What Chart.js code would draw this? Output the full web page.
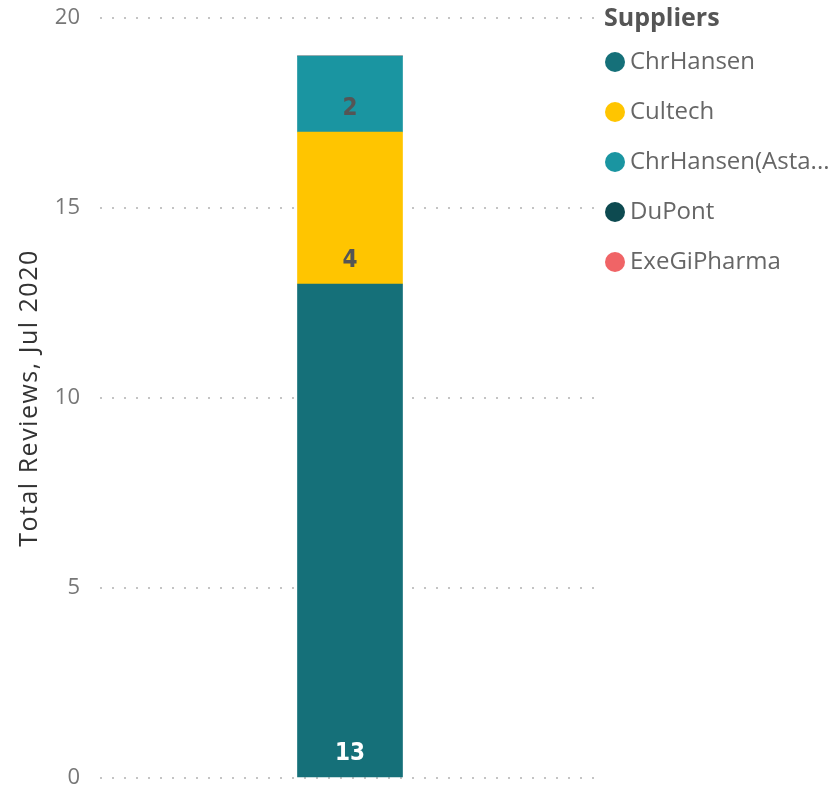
<!DOCTYPE html>
<html>
<head>
<meta charset="utf-8">
<script src="https://cdn.jsdelivr.net/npm/chart.js@4/dist/chart.umd.min.js"></script>
<style>
    html, body { margin: 0; padding: 0; background: #fff; }
    #wrap { width: 835px; height: 789px; }
</style>
</head>
<body>
<div id="wrap"><canvas id="myChart"></canvas></div>
<script>
/** 数据 */
var categories = ['Jul 2020']
var suppliers = ['ChrHansen', 'Cultech', 'ChrHansen(Asta...', 'DuPont', 'ExeGiPharma']
var reviews = [13, 4, 2, 0, 0]
var colors = ['#157079', '#FFC500', '#1A95A1', '#0D4A50', '#F06466']
var valueColors = ['#ffffff', '#555555', '#555555', '#ffffff', '#ffffff']
var yMax = 20
var yStep = 5
var yTitle = 'Total Reviews, Jul 2020'
var legendTitle = 'Suppliers'

var FONT = "'Open Sans', 'Noto Sans', sans-serif"

// 段内数值标签 (画在每段底部)
var segLabels = {
    id: 'segLabels',
    afterDatasetsDraw: function (chart) {
        var ctx = chart.ctx
        ctx.save()
        ctx.font = "bold 24px 'Liberation Sans Narrow', 'DejaVu Sans Condensed', sans-serif"
        ctx.textAlign = 'center'
        ctx.textBaseline = 'middle'
        chart.data.datasets.forEach(function (ds, i) {
            var meta = chart.getDatasetMeta(i)
            meta.data.forEach(function (bar, j) {
                var v = ds.data[j]
                if (!v) return
                ctx.fillStyle = valueColors[i]
                ctx.fillText(String(v), bar.x, bar.base - 23)
            })
        })
        ctx.restore()
    }
}

// y轴标题 + 右侧图例
var sideTexts = {
    id: 'sideTexts',
    afterDraw: function (chart) {
        var ctx = chart.ctx
        var area = chart.chartArea
        ctx.save()
        // y轴标题
        ctx.translate(30, (area.top + area.bottom) / 2)
        ctx.rotate(-Math.PI / 2)
        ctx.font = '25px ' + FONT
        ctx.letterSpacing = '1.5px'
        ctx.fillStyle = '#333'
        ctx.textAlign = 'center'
        ctx.textBaseline = 'middle'
        ctx.fillText(yTitle, 0, 0)
        ctx.restore()

        // 图例
        ctx.save()
        var lx = area.right + 4
        ctx.textAlign = 'left'
        ctx.textBaseline = 'middle'
        ctx.font = 'bold 25px ' + FONT
        ctx.fillStyle = '#555'
        ctx.fillText(legendTitle, lx, 19)
        ctx.font = '24px ' + FONT
        chart.data.datasets.forEach(function (ds, i) {
            var cy = 62 + i * 50
            ctx.beginPath()
            ctx.arc(lx + 11, cy, 10, 0, Math.PI * 2)
            ctx.fillStyle = ds.backgroundColor
            ctx.fill()
            ctx.fillStyle = '#666'
            ctx.fillText(ds.label, lx + 26, cy)
        })
        ctx.restore()
    }
}

var datasets = suppliers.map(function (name, i) {
    return {
        label: name,
        data: [reviews[i]],
        backgroundColor: colors[i],
        borderWidth: 0,
        barThickness: 105
    }
})

var ctx = document.getElementById('myChart').getContext('2d')
var myChart = new Chart(ctx, {
    type: 'bar',
    data: { labels: categories, datasets: datasets },
    plugins: [segLabels, sideTexts],
    options: {
        responsive: true,
        maintainAspectRatio: false,
        animation: false,
        layout: { padding: { top: 18, bottom: 11, left: 0, right: 235 } },
        plugins: {
            tooltip: { enabled: false },
            legend: { display: false }
        },
        scales: {
            x: {
                stacked: true,
                display: false
            },
            y: {
                stacked: true,
                min: 0,
                max: yMax,
                afterFit: function (s) {
                    s.width = 100
                    s.paddingTop = 0
                    s.paddingBottom = 0
                },
                ticks: {
                    stepSize: yStep,
                    color: '#777',
                    padding: 20,
                    font: { family: FONT, size: 22 }
                },
                grid: {
                    color: '#c4c4c4',
                    lineWidth: 2,
                    drawTicks: false
                },
                border: { display: false, dash: [2, 10] }
            }
        }
    }
})
</script>
</body>
</html>
